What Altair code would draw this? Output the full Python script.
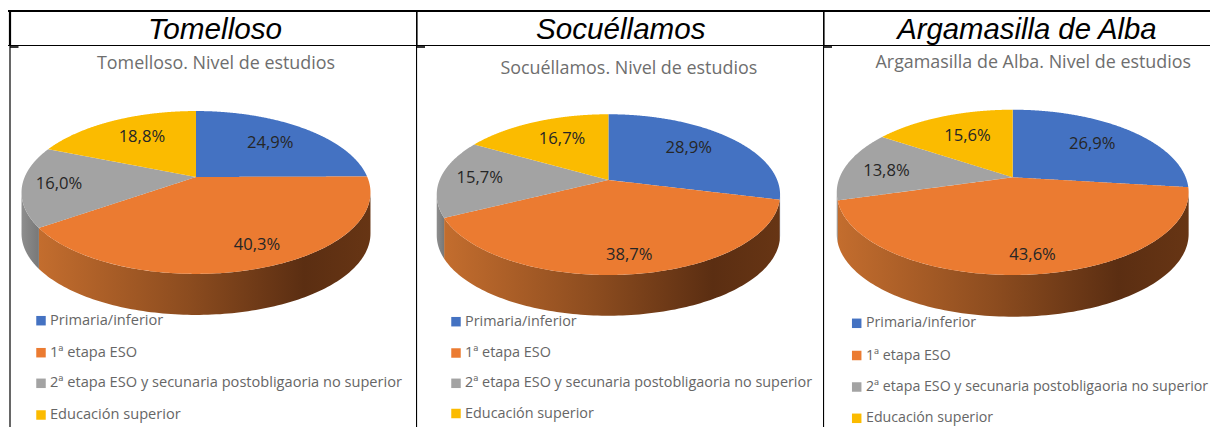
import math
import altair as alt
import pandas as pd

# ---- values ----
towns = ["Tomelloso", "Socuéllamos", "Argamasilla de Alba"]
categories = ["Primaria/inferior", "1ª etapa ESO",
              "2ª etapa ESO y secunaria postobligaoria no superior", "Educación superior"]
tomelloso = [24.9, 40.3, 16.0, 18.8]
socuellamos = [28.9, 38.7, 15.7, 16.7]
argamasilla = [26.9, 43.6, 13.8, 15.6]
series = [tomelloso, socuellamos, argamasilla]

# ---- layout and style ----
colors = ["#4472C2", "#EB7B31", "#A3A3A3", "#FBBB00"]
FONT = "Open Sans"
TITLE_SIZE, LABEL_SIZE = 17.9, 16.6
PANELS = [(8, 416), (416, 823), (823, 1210)]
Y_DOMAIN = [8, 427]
LAYOUT = [
    dict(cx=196.0, cy=177.0, A=171.3, B=78.5, k=0.190, depth=41.0,
         head_x=215.0, head_size=29.7, title=(216.0, 64.0), sq_x=41.0, txt_x=50.0, leg_size=14.6,
         rows=[320.7, 352.7, 383.3, 415.0],
         nudge=[(-3, 2), (19, 8), (-16, 1), (6, 1)]),
    dict(cx=608.4, cy=180.0, A=168.8, B=77.7, k=0.182, depth=40.7,
         head_x=620.8, head_size=29.6, title=(628.8, 69.0), sq_x=456.0, txt_x=465.0, leg_size=14.4,
         rows=[321.7, 353.0, 383.3, 413.5],
         nudge=[(-6, -1), (6, 13), (-11, 0), (7, 1)]),
    dict(cx=1012.7, cy=177.3, A=173.0, B=79.9, k=0.182, depth=41.7,
         head_x=1026.9, head_size=29.3, title=(1033.3, 63.0), sq_x=856.7, txt_x=866.0, leg_size=14.2,
         rows=[323.3, 355.5, 387.0, 418.3],
         nudge=[(-4, 1), (9, 14), (-9, 2), (6, 3)]),
]
ORANGE_SIDE = alt.Gradient(gradient="linear", x1=0, x2=1, y1=0, y2=0, stops=[
    alt.GradientStop(color="#C36D2E", offset=0),
    alt.GradientStop(color="#8C4C1F", offset=0.45),
    alt.GradientStop(color="#5B2E12", offset=0.8),
    alt.GradientStop(color="#673514", offset=1),
])
GRAY_SIDE = alt.Gradient(gradient="linear", x1=0, x2=1, y1=0, y2=0, stops=[
    alt.GradientStop(color="#8E8E8E", offset=0),
    alt.GradientStop(color="#787878", offset=1),
])
SIDE = ["#2A4679", ORANGE_SIDE, GRAY_SIDE, "#8F6C00"]


def project(theta, r, g):
    u, v = math.sin(theta) * r, math.cos(theta) * r
    w = 1 + g["k"] * v
    return g["cx"] + g["A"] * u / w, g["cy"] - g["B"] * v / w


def slice_band(poly, xs):
    rows = []
    n = len(poly)
    for x in xs:
        ys = []
        for i in range(n):
            (x0, y0), (x1, y1) = poly[i], poly[(i + 1) % n]
            if min(x0, x1) - 1e-9 <= x <= max(x0, x1) + 1e-9:
                if abs(x1 - x0) < 1e-9:
                    ys += [y0, y1]
                else:
                    ys.append(y0 + (y1 - y0) * (x - x0) / (x1 - x0))
        if ys:
            rows.append(dict(x=x, y=min(ys), y2=max(ys)))
    return pd.DataFrame(rows)


def panel(idx):
    g = LAYOUT[idx]
    vals = series[idx]
    x0, x1 = PANELS[idx]
    xs = alt.Scale(domain=[x0, x1], nice=False, zero=False)
    ys = alt.Scale(domain=Y_DOMAIN, nice=False, zero=False, reverse=True)
    X = alt.X("x:Q", scale=xs, axis=None)
    Y = alt.Y("y:Q", scale=ys, axis=None)
    layers = []

    edges = [0.0]
    for v in vals:
        edges.append(edges[-1] + v)
    total = edges[-1]
    angle = [e / total * 2 * math.pi for e in edges]

    # silhouette of the wall: the leftmost and rightmost rim points
    samples = [2 * math.pi * i / 1440 for i in range(1441)]
    th_right = max(samples, key=lambda t: project(t, 1, g)[0])
    th_left = min(samples, key=lambda t: project(t, 1, g)[0])

    # walls
    for i in range(4):
        a = max(angle[i], th_right)
        b = min(angle[i + 1], th_left)
        if b <= a:
            continue
        pts = [project(a + (b - a) * j / 120, 1, g) for j in range(121)]
        pts.sort()
        df = pd.DataFrame([dict(x=p[0], y=p[1], y2=p[1] + g["depth"]) for p in pts])
        layers.append(alt.Chart(df).mark_area(color=SIDE[i], opacity=1).encode(
            x=X, y=Y, y2="y2:Q"))

    # top surface
    for i in range(4):
        a, b = angle[i], angle[i + 1]
        steps = 240
        arc = [project(a + (b - a) * j / steps, 1, g) for j in range(steps + 1)]
        poly = [(g["cx"], g["cy"])] + arc
        grid = sorted({p[0] for p in poly})
        df = slice_band(poly, grid)
        layers.append(alt.Chart(df).mark_area(color=colors[i], opacity=1).encode(
            x=X, y=Y, y2="y2:Q"))

    # percentage labels
    rows = []
    for i in range(4):
        mid = (angle[i] + angle[i + 1]) / 2
        px, py = project(mid, 0.7, g)
        dx, dy = g["nudge"][i]
        rows.append(dict(x=px + dx, y=py + dy, t=f"{vals[i]:.1f}%".replace(".", ",")))
    layers.append(alt.Chart(pd.DataFrame(rows)).mark_text(
        font=FONT, fontSize=LABEL_SIZE, color="#262626", align="center", baseline="middle"
    ).encode(x=X, y=Y, text="t:N"))

    # legend
    leg = pd.DataFrame(dict(x=[g["sq_x"]] * 4, tx=[g["txt_x"]] * 4, y=g["rows"],
                            t=categories, c=colors))
    layers.append(alt.Chart(leg).mark_square(size=90, opacity=1, clip=True).encode(
        x=X, y=Y, color=alt.Color("c:N", scale=None)))
    layers.append(alt.Chart(leg).mark_text(
        font=FONT, fontSize=g["leg_size"], color="#666666", align="left", baseline="middle",
        clip=True
    ).encode(x=alt.X("tx:Q", scale=xs, axis=None), y=Y, text="t:N"))

    # chart title inside the cell
    tx, ty = g["title"]
    layers.append(alt.Chart(pd.DataFrame([dict(x=tx, y=ty, t=f"{towns[idx]}. Nivel de estudios")])).mark_text(
        font=FONT, fontSize=TITLE_SIZE, color="#6E6E6E", align="center", baseline="middle"
    ).encode(x=X, y=Y, text="t:N"))

    # table header text
    layers.append(alt.Chart(pd.DataFrame([dict(x=g["head_x"], y=39.0, t=towns[idx])])).mark_text(
        font="Liberation Sans", fontStyle="italic", fontSize=g["head_size"], color="#000000",
        align="center", baseline="alphabetic"
    ).encode(x=X, y=Y, text="t:N"))

    # table rules
    left = [10.0, 416.5, 823.5][idx]
    h = pd.DataFrame([
        dict(x=x0, x2=x1, y=11.0, s=2.2),
        dict(x=x0, x2=x1, y=45.5, s=1.2),
        dict(x=left, x2=left + 8.5, y=47.0, s=1.6),
    ])
    v = pd.DataFrame([
        dict(x=left, y=10.0, y2=46.0, s=2.2),
        dict(x=left, y=46.0, y2=427.0, s=1.2),
    ])
    layers.append(alt.Chart(h).mark_rule(color="#000000", clip=True).encode(
        x=X, x2="x2:Q", y=Y, strokeWidth=alt.StrokeWidth("s:Q", scale=None)))
    layers.append(alt.Chart(v).mark_rule(color="#000000", clip=True).encode(
        x=X, y=Y, y2="y2:Q", strokeWidth=alt.StrokeWidth("s:Q", scale=None)))

    return alt.layer(*layers).properties(width=x1 - x0, height=Y_DOMAIN[1] - Y_DOMAIN[0])


chart = alt.hconcat(panel(0), panel(1), panel(2), spacing=0, padding=0).configure_view(
    stroke=None).configure_concat(spacing=0)
chart.save("out.html", embed_options={"renderer": "svg", "actions": False})
